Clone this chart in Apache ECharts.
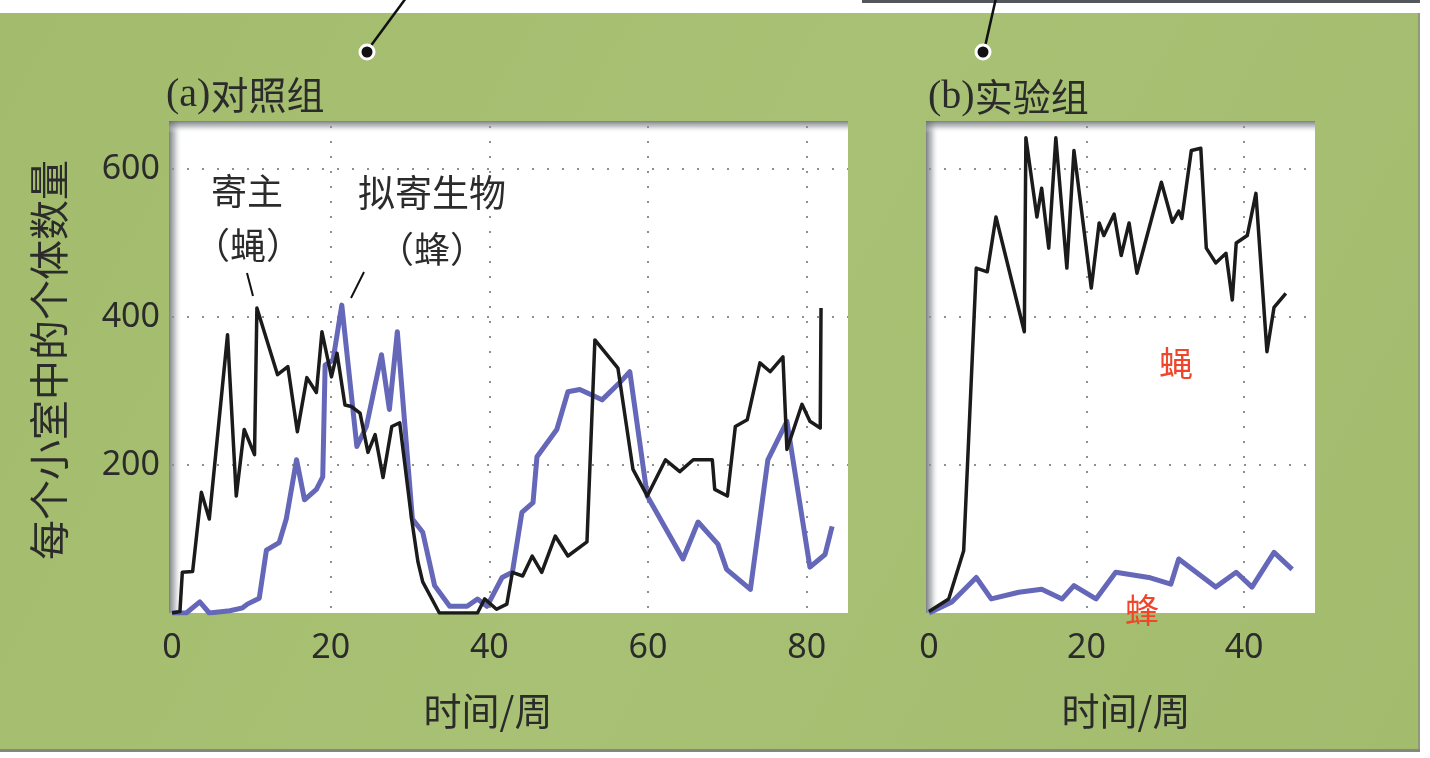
<!DOCTYPE html>
<html>
<head>
<meta charset="utf-8">
<script src="https://cdn.jsdelivr.net/npm/echarts@6/dist/echarts.min.js"></script>
<style>
  html, body { margin: 0; padding: 0; background: #ffffff; }
  #chart { width: 1430px; height: 758px; }
</style>
</head>
<body>
<div id="chart"></div>
<script>
// (a) control chambers: host fly and parasitoid wasp counts by week
const weeksHostA = [0, 1, 1.3, 2.6, 3.7, 4.7, 7.0, 8.1, 9.1, 10.4, 10.7, 13.3, 14.6, 15.8, 17.0, 18.2, 18.9, 20.1, 20.8, 21.8, 22.6, 23.7, 24.7, 25.6, 26.6, 27.7, 28.7, 30.2, 31.0, 31.6, 33.7, 38.5, 39.4, 40.9, 42.2, 42.9, 44.2, 45.4, 46.6, 48.3, 49.9, 52.3, 53.3, 56.2, 58.1, 59.9, 62.2, 64.0, 65.7, 68.1, 68.4, 70.0, 71.0, 72.5, 74.1, 75.4, 77.0, 77.5, 79.4, 80.4, 81.7, 81.8];
const hostA = [0, 2, 55, 56, 163, 127, 376, 158, 248, 214, 412, 322, 333, 245, 318, 298, 380, 319, 351, 281, 279, 270, 217, 241, 183, 252, 257, 127, 69, 42, 0, 0, 19, 5, 12, 55, 50, 77, 55, 104, 77, 96, 369, 331, 194, 158, 207, 191, 207, 207, 167, 158, 252, 261, 338, 326, 346, 221, 282, 259, 250, 412];

const weeksWaspA = [0, 1.8, 3.5, 4.7, 7.3, 8.9, 9.5, 11.0, 11.9, 13.5, 14.4, 15.7, 16.7, 18.2, 19.0, 19.3, 20.3, 21.4, 23.3, 24.5, 26.4, 27.4, 28.4, 30.3, 31.6, 33.1, 35.0, 37.2, 38.5, 39.7, 41.6, 42.9, 44.1, 45.5, 46.0, 48.5, 49.9, 51.4, 54.2, 56.5, 57.7, 59.9, 64.4, 66.3, 68.8, 69.9, 72.9, 75.1, 77.5, 80.4, 82.3, 83.2];
const waspA = [0, 0, 15, 0, 3, 7, 12, 20, 85, 95, 127, 207, 153, 167, 184, 335, 342, 416, 225, 252, 349, 275, 380, 127, 109, 37, 9, 9, 19, 9, 48, 55, 136, 149, 211, 248, 299, 302, 288, 312, 326, 158, 73, 123, 93, 59, 32, 207, 259, 62, 79, 117];

// (b) experimental chambers
const weeksHostB = [0, 2.5, 4.4, 6.0, 7.4, 8.5, 12.1, 12.3, 13.7, 14.3, 15.2, 16.1, 17.5, 18.4, 20.6, 21.6, 22.2, 23.5, 24.4, 25.4, 26.4, 29.5, 30.9, 31.7, 32.1, 33.3, 34.5, 35.2, 36.4, 37.7, 38.5, 39.0, 40.4, 41.5, 42.9, 43.8, 45.3];
const hostB = [2, 19, 84, 466, 461, 535, 380, 642, 535, 574, 493, 642, 466, 625, 439, 527, 510, 539, 483, 527, 459, 582, 528, 543, 533, 625, 628, 493, 473, 486, 423, 500, 510, 567, 353, 413, 432];

const weeksWaspB = [0, 2.9, 6.0, 7.9, 11.4, 14.3, 16.9, 18.4, 21.2, 23.7, 27.9, 30.7, 31.7, 36.4, 39.0, 41.0, 43.8, 46.1];
const waspB = [0, 15, 48, 19, 28, 32, 19, 37, 19, 55, 48, 39, 73, 35, 55, 35, 82, 59];

// tick labels
const yTickLabels = [200, 400, 600];
const xTickLabelsA = [0, 20, 40, 60, 80];
const xTickLabelsB = [0, 20, 40];

const pairs = (xs, ys) => xs.map((x, i) => [x, ys[i]]);

const TEXT = '#2b2b2b';
const HOST = '#1b1b1b';
const WASP = '#6567b8';
const CJK = '"Noto Sans CJK SC", "Noto Sans", sans-serif';
const NUM = '"Noto Sans", "Open Sans", sans-serif';

const panelA = { left: 172, top: 126, width: 676, height: 487 };
const panelB = { left: 929, top: 126, width: 386, height: 487 };

const dotted = { color: '#8f8f8f', type: [2, 13], width: 2 };

function xAxisFor(gridIndex, max, ticks) {
  return {
    type: 'value', gridIndex, min: 0, max, interval: 20,
    axisLine: { show: false }, axisTick: { show: false },
    splitLine: { show: true, showMinLine: false, showMaxLine: false, lineStyle: dotted },
    axisLabel: {
      margin: 18, color: TEXT, fontSize: 34, fontFamily: NUM,
      showMaxLabel: false,
      formatter: v => ticks.includes(v) ? String(v) : ''
    }
  };
}
function yAxisFor(gridIndex, showLabels) {
  return {
    type: 'value', gridIndex, min: 0, max: 658, interval: 200,
    axisLine: { show: false }, axisTick: { show: false },
    splitLine: { show: true, showMinLine: false, showMaxLine: false, lineStyle: dotted },
    axisLabel: {
      show: showLabels, margin: 12, color: TEXT, fontSize: 34, fontFamily: NUM,
      formatter: v => yTickLabels.includes(v) ? String(v) : ''
    }
  };
}
function lineSeries(xi, data, color, width, z) {
  return {
    type: 'line', xAxisIndex: xi, yAxisIndex: xi, data, z,
    symbol: 'none', smooth: false, silent: true,
    lineStyle: { color, width, join: 'round' }
  };
}

// white plotting panel with a soft grey edge along its top and left sides
function panelShapes(p) {
  const L = new echarts.graphic.LinearGradient(0, 0, 1, 0, [
    { offset: 0, color: 'rgba(100,104,110,0.85)' },
    { offset: 0.45, color: 'rgba(150,154,160,0.55)' },
    { offset: 1, color: 'rgba(255,255,255,0)' }
  ]);
  const T = new echarts.graphic.LinearGradient(0, 0, 0, 1, [
    { offset: 0, color: 'rgba(100,104,110,0.85)' },
    { offset: 0.45, color: 'rgba(150,154,160,0.55)' },
    { offset: 1, color: 'rgba(255,255,255,0)' }
  ]);
  return [
    { type: 'rect', z: -10, shape: { x: p.left - 3, y: p.top - 5, width: p.width + 3, height: p.height + 5 }, style: { fill: '#ffffff' } },
    { type: 'rect', z: -9, shape: { x: p.left - 3, y: p.top - 5, width: 13, height: p.height + 5 }, style: { fill: L } },
    { type: 'rect', z: -9, shape: { x: p.left - 3, y: p.top - 5, width: p.width + 3, height: 12 }, style: { fill: T } }
  ];
}

function label(x, y, text, size, opts) {
  return Object.assign({
    type: 'text', x, y, z: 20,
    style: { text, fill: TEXT, fontSize: size, fontFamily: CJK, align: 'center', verticalAlign: 'middle' }
  }, opts || {});
}

const chart = echarts.init(document.getElementById('chart'), null, { renderer: 'canvas' });

chart.setOption({
  animation: false,
  backgroundColor: new echarts.graphic.LinearGradient(0, 0, 1, 1, [
    { offset: 0, color: '#a3bb6c' },
    { offset: 0.5, color: '#a9c174' },
    { offset: 1, color: '#a2bb6d' }
  ]),
  grid: [
    Object.assign({ show: false }, panelA),
    Object.assign({ show: false }, panelB)
  ],
  xAxis: [xAxisFor(0, 85.2, xTickLabelsA), xAxisFor(1, 49, xTickLabelsB)],
  yAxis: [yAxisFor(0, true), yAxisFor(1, false)],
  series: [
    lineSeries(0, pairs(weeksWaspA, waspA), WASP, 5, 3),
    lineSeries(0, pairs(weeksHostA, hostA), HOST, 3.5, 4),
    lineSeries(1, pairs(weeksWaspB, waspB), WASP, 5, 3),
    lineSeries(1, pairs(weeksHostB, hostB), HOST, 3.5, 4)
  ],
  graphic: [
    // page frame: white strip along the top, grey rule top right, right and bottom margins
    { type: 'rect', shape: { x: 0, y: 0, width: 1430, height: 13 }, style: { fill: '#ffffff' } },
    { type: 'rect', shape: { x: 862, y: 0, width: 558, height: 3 }, style: { fill: '#55585a' } },
    { type: 'rect', shape: { x: 1420, y: 0, width: 10, height: 758 }, style: { fill: '#ffffff' } },
    { type: 'rect', shape: { x: 1418, y: 13, width: 2, height: 737 }, style: { fill: '#8e9a78' } },
    { type: 'rect', shape: { x: 0, y: 749, width: 1420, height: 3 }, style: { fill: '#84877c' } },
    { type: 'rect', shape: { x: 0, y: 752, width: 1430, height: 6 }, style: { fill: '#ffffff' } },

    // callout pointers to the two panels
    { type: 'line', shape: { x1: 406, y1: -2, x2: 367, y2: 51 }, style: { stroke: '#111', lineWidth: 2.5 } },
    { type: 'circle', shape: { cx: 367, cy: 52, r: 7 }, style: { fill: '#111', stroke: '#ffffff', lineWidth: 3 } },
    { type: 'line', shape: { x1: 996, y1: -2, x2: 984, y2: 51 }, style: { stroke: '#111', lineWidth: 2.5 } },
    { type: 'circle', shape: { cx: 983, cy: 52, r: 7 }, style: { fill: '#111', stroke: '#ffffff', lineWidth: 3 } },

    ...panelShapes(panelA),
    ...panelShapes(panelB),

    // panel titles
    { type: 'text', x: 166, y: 95, z: 20, style: {
        text: '{p|(a)}{c|对照组}', align: 'left', verticalAlign: 'middle',
        rich: { p: { fontFamily: '"Liberation Serif", serif', fontSize: 40, fill: TEXT },
                c: { fontFamily: CJK, fontSize: 38, fill: TEXT } } } },
    { type: 'text', x: 928, y: 97, z: 20, style: {
        text: '{p|(b)}{c|实验组}', align: 'left', verticalAlign: 'middle',
        rich: { p: { fontFamily: '"Liberation Serif", serif', fontSize: 40, fill: TEXT },
                c: { fontFamily: CJK, fontSize: 38, fill: TEXT } } } },

    // axis titles
    label(49, 360, '每个小室中的个体数量', 40, { rotation: Math.PI / 2 }),
    label(488, 711, '时间/周', 38),
    label(1126, 711, '时间/周', 38),

    // series callouts in panel (a)
    label(247, 191, '寄主', 36),
    label(248, 245, '（蝇）', 36),
    { type: 'line', z: 20, shape: { x1: 247, y1: 273, x2: 253, y2: 296 }, style: { stroke: '#111', lineWidth: 2 } },
    label(432, 193, '拟寄生物', 37),
    label(432, 249, '（蜂）', 36),
    { type: 'line', z: 20, shape: { x1: 364, y1: 272, x2: 351, y2: 298 }, style: { stroke: '#111', lineWidth: 2 } },

    // series callouts in panel (b)
    label(1176, 363, '蝇', 34, { style: { text: '蝇', fill: '#f0452b', fontSize: 34, fontFamily: CJK, align: 'center', verticalAlign: 'middle' } }),
    label(1142, 610, '蜂', 34, { style: { text: '蜂', fill: '#f0452b', fontSize: 34, fontFamily: CJK, align: 'center', verticalAlign: 'middle' } })
  ]
});
</script>
</body>
</html>
